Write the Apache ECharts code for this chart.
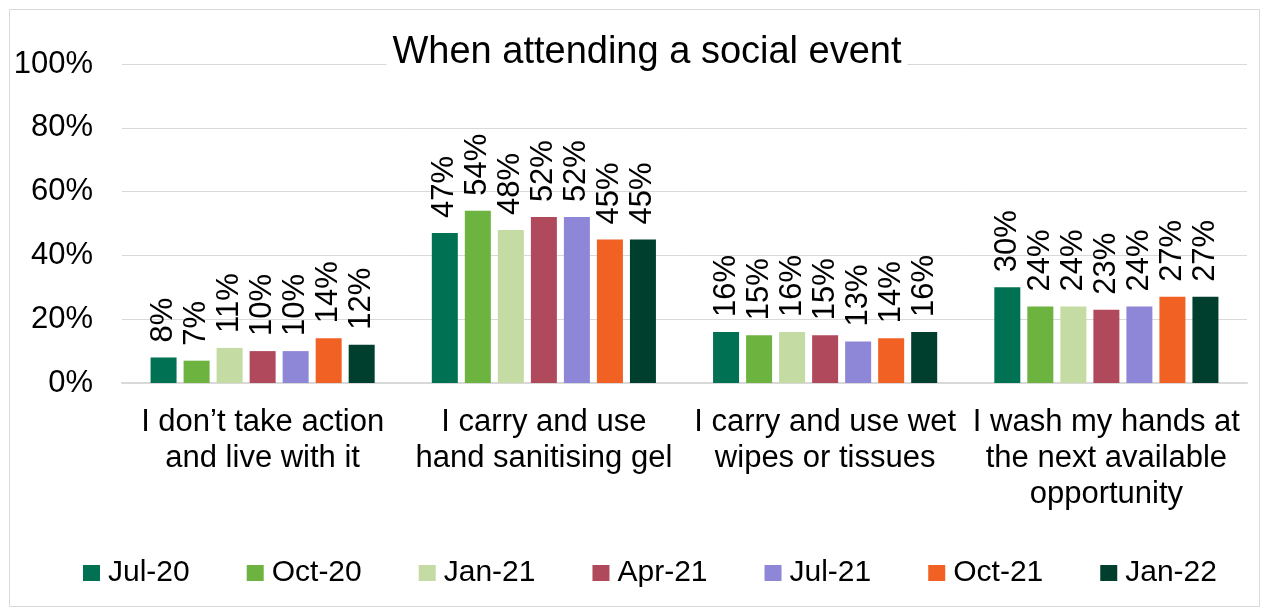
<!DOCTYPE html>
<html>
<head>
<meta charset="utf-8">
<script src="https://cdn.jsdelivr.net/npm/echarts@6/dist/echarts.min.js"></script>
<style>
  html, body { margin: 0; padding: 0; background: #fff; }
  #chartBox { width: 1269px; height: 615px; }
</style>
</head>
<body>
<div id="chartBox"></div>
<script>
const categories = [
  "I don\u2019t take action\nand live with it",
  "I carry and use\nhand sanitising gel",
  "I carry and use wet\nwipes or tissues",
  "I wash my hands at\nthe next available\nopportunity"
];
const seriesNames = ["Jul-20", "Oct-20", "Jan-21", "Apr-21", "Jul-21", "Oct-21", "Jan-22"];
const colors = ["#007152", "#6db33f", "#c5dba4", "#b0495b", "#8e86d6", "#f26124", "#003f2d"];
const jul20 = [8, 47, 16, 30];
const oct20 = [7, 54, 15, 24];
const jan21 = [11, 48, 16, 24];
const apr21 = [10, 52, 15, 23];
const jul21 = [10, 52, 13, 24];
const oct21 = [14, 45, 14, 27];
const jan22 = [12, 45, 16, 27];
const yTicks = [0, 20, 40, 60, 80, 100];

const allData = [jul20, oct20, jan21, apr21, jul21, oct21, jan22];
const font = "Liberation Sans, Arial, sans-serif";

const myChart = echarts.init(document.getElementById("chartBox"));
const option = {
  animation: false,
  title: {
    text: "When attending a social event",
    left: 641,
    top: 32,
    textAlign: "center",
    backgroundColor: "#fff",
    padding: [2, 6],
    textStyle: { fontFamily: font, fontSize: 38, fontWeight: "normal", color: "#000" }
  },
  graphic: [{
    type: "rect",
    shape: { x: 9.5, y: 9.5, width: 1250, height: 597 },
    style: { fill: "none", stroke: "#d9d9d9", lineWidth: 1 },
    silent: true
  }],
  legend: {
    data: seriesNames,
    top: 558,
    left: 83,
    padding: 0,
    itemWidth: 17,
    itemHeight: 16,
    itemGap: 57,
    icon: "rect",
    textStyle: { fontFamily: font, fontSize: 30, color: "#000", padding: [0, 0, 0, 3] }
  },
  grid: { left: 122, right: 22, top: 64, bottom: 232 },
  xAxis: {
    type: "category",
    data: categories,
    axisLine: { lineStyle: { color: "#d9d9d9", width: 2 } },
    axisTick: { show: false },
    axisLabel: {
      fontFamily: font, fontSize: 31, color: "#000",
      lineHeight: 36, margin: 21, interval: 0
    }
  },
  yAxis: {
    type: "value",
    min: yTicks[0],
    max: yTicks[yTicks.length - 1],
    interval: 20,
    axisLabel: {
      fontFamily: font, fontSize: 31, color: "#000",
      margin: 29, formatter: "{value}%"
    },
    splitLine: { lineStyle: { color: "#d9d9d9", width: 1 } },
    axisLine: { show: false }
  },
  series: seriesNames.map((name, i) => ({
    name: name,
    type: "bar",
    data: allData[i],
    barWidth: 26,
    barGap: "27%",
    itemStyle: { color: colors[i] },
    label: {
      show: true,
      position: "top",
      rotate: 90,
      align: "left",
      verticalAlign: "middle",
      distance: 15,
      formatter: "{c}%",
      fontFamily: font,
      fontSize: 31,
      color: "#000"
    }
  }))
};
myChart.setOption(option);
</script>
</body>
</html>
